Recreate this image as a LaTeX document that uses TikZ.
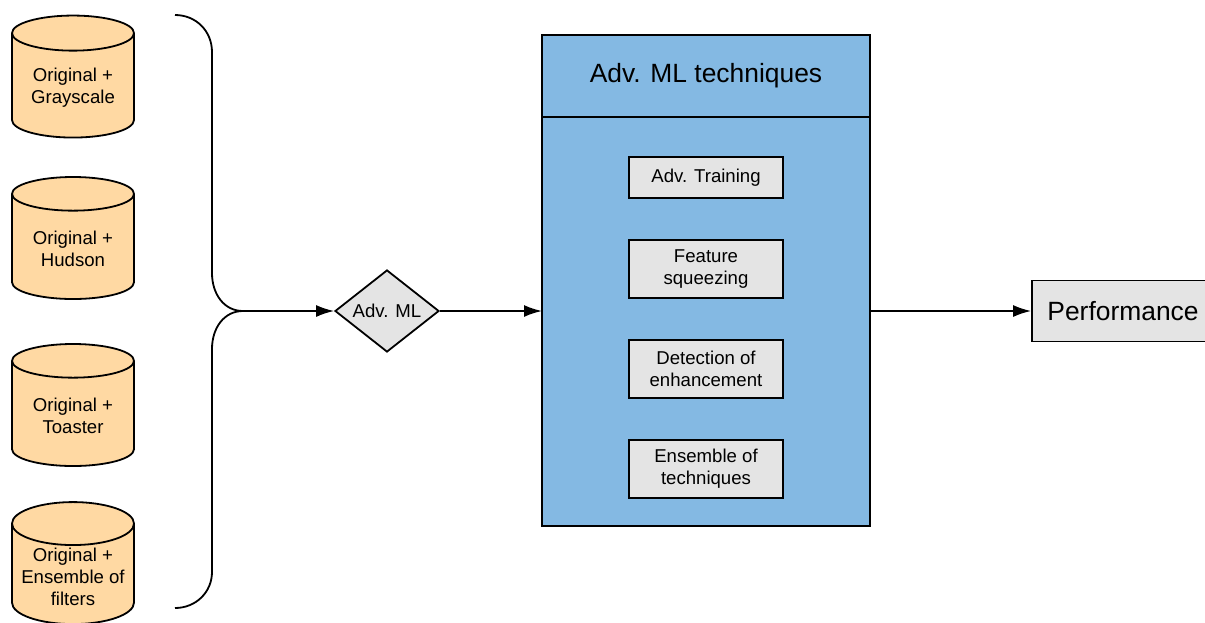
\documentclass[tikz,border=0pt]{standalone}
\usepackage{fontspec}
\setmainfont{Liberation Sans}
\usetikzlibrary{shapes.geometric, arrows.meta, positioning}

\definecolor{dbfill}{HTML}{FFD9A3}
\definecolor{techblue}{HTML}{84B9E3}
\definecolor{boxgray}{HTML}{E4E4E4}

\begin{document}
\begin{tikzpicture}[x=0.5pt, y=-0.5pt, >={Latex[length=9pt,width=6pt]},
  font=\fontsize{9.3}{11}\selectfont, line width=0.9pt,
  db/.style={draw, fill=dbfill, cylinder, shape border rotate=90, aspect=0.4,
    minimum width=61pt, minimum height=61pt, align=center, inner sep=1pt},
  tbox/.style={draw, fill=boxgray, minimum width=77pt, align=center, inner sep=1pt},
  node distance=20.1pt]

\useasboundingbox (0,0) rectangle (1205,622);

% data sets
\node[db] (gray) at (73,88) {Original +\\Grayscale};
\node[db] (hudson) at (73,249) {Original +\\Hudson};
\node[db] (toaster) at (73,416) {Original +\\Toaster};
\node[db] (filters) at (73,577) {Original +\\Ensemble of\\filters};

% brace
\coordinate (bt) at (175,15);
\coordinate (tip) at (243,311);
\coordinate (bb) at (175,608);
\draw (bt) .. controls (196,15) and (212,31) .. (212,52) -- (212,273)
  .. controls (212,294) and (224,311) .. (tip)
  .. controls (224,311) and (212,328) .. (212,349) -- (212,572)
  .. controls (212,592) and (196,608) .. (bb);

\node[draw, fill=boxgray, diamond, aspect=1.27, minimum width=52pt,
  minimum height=41pt, inner sep=0pt] (adv) at (387,311) {Adv. ML};

% techniques
\begin{scope}[outer sep=0pt]
  \node[draw, fill=techblue, minimum width=164pt, minimum height=41pt,
    font=\fontsize{13.2}{15}\selectfont] (head) at (706,76) {Adv. ML techniques};
  \node[draw, fill=techblue, minimum width=164pt, minimum height=204.5pt,
    below=0pt of head] (body) {};
\end{scope}

\begin{scope}
  \node[tbox, minimum height=20.5pt] (train) at (706,177.5) {Adv. Training};
  \node[tbox, minimum height=29pt, below=of train] (squeeze) {Feature\\squeezing};
  \node[tbox, minimum height=29pt, below=of squeeze] (detect) {Detection of\\enhancement};
  \node[tbox, minimum height=29pt, below=of detect] (ensemble) {Ensemble of\\techniques};
\end{scope}

\node[draw, fill=boxgray, minimum width=91pt, minimum height=30.5pt,
  font=\fontsize{13.2}{15}\selectfont] (perf) at (1123,311) {Performance};

\draw[->] (tip) -- (adv.west);
\draw[->] (adv.east) -- (adv -| body.west);
\draw[->] (body.east |- perf) -- (perf.west);
\end{tikzpicture}
\end{document}
